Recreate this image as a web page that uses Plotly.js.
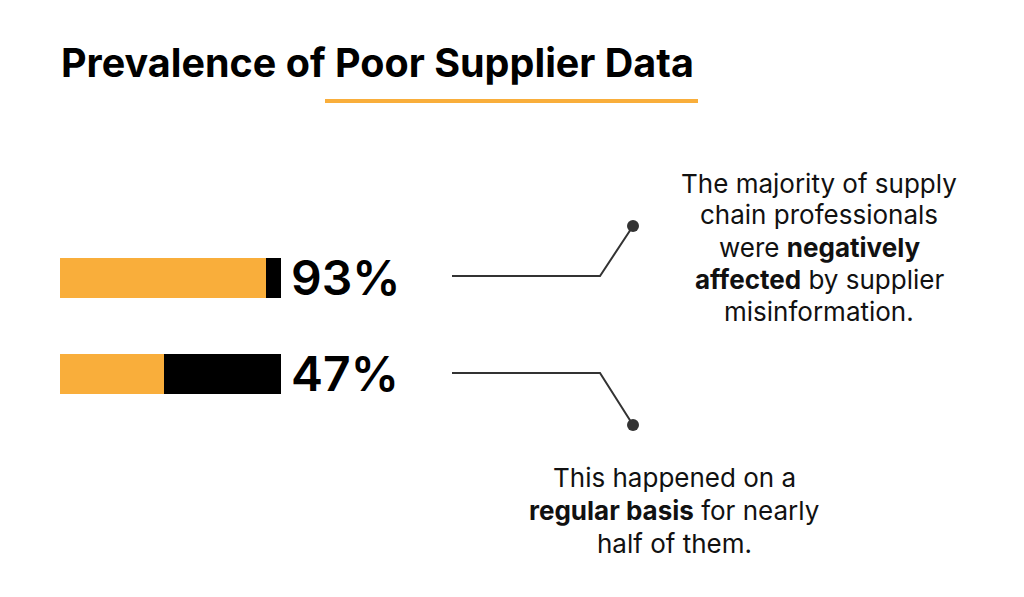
<!DOCTYPE html>
<html><head><meta charset="utf-8">
<script src="https://cdn.plot.ly/plotly-3.0.1.min.js"></script>
<style>html,body{margin:0;padding:0;background:#fff}</style>
</head><body><div id="chart" style="width:1024px;height:597px"></div>
<script>
const categories = ["Negatively affected", "Regular basis"];
const affectedPct = [93, 47];
const remainderPct = [7, 53];
const labels = ["93%", "47%"];
const noteTopLines = ["The majority of supply", "chain professionals", "were <b>negatively</b>", "<b>affected</b> by supplier", "misinformation."];
const noteBottomLines = ["This happened on a", "<b>regular basis</b> for nearly", "half of them."];

const W = 1024, H = 597;
const px = x => x / W, py = y => 1 - y / H;
const ORANGE = "#F9AE3B";
const FONT = "Inter, 'Noto Sans', sans-serif";

const traces = [
  {type: "bar", orientation: "h", y: categories, x: affectedPct, marker: {color: ORANGE}, hoverinfo: "skip"},
  {type: "bar", orientation: "h", y: categories, x: remainderPct, marker: {color: "#000000"}, hoverinfo: "skip"}
];

const annotations = categories.map((c, i) => ({
  xref: "x", yref: "y", x: 100, y: c, text: labels[i], showarrow: false,
  xanchor: "left", yanchor: "middle", xshift: 8, yshift: 1,
  font: {family: FONT, size: 48, color: "#000", weight: 600}
}));
annotations.push(
  {xref: "paper", yref: "paper", x: px(59), y: py(63), xanchor: "left", yanchor: "middle", showarrow: false,
   text: "<b>Prevalence of Poor Supplier Data</b>", font: {family: FONT, size: 39.5, color: "#000"}}
);
noteTopLines.forEach((t, i) => annotations.push({
  xref: "paper", yref: "paper", x: px(819), y: py(183 + 32 * i), xanchor: "center", yanchor: "middle",
  showarrow: false, text: t, font: {family: FONT, size: 26, color: "#111"}
}));
noteBottomLines.forEach((t, i) => annotations.push({
  xref: "paper", yref: "paper", x: px(674), y: py(478 + 32.5 * i), xanchor: "center", yanchor: "middle",
  showarrow: false, text: t, font: {family: FONT, size: 26, color: "#111"}
}));

const lineStyle = {color: "#333333", width: 2};
const shapes = [
  {type: "line", xref: "paper", yref: "paper", x0: px(325), x1: px(698), y0: py(101), y1: py(101), line: {color: ORANGE, width: 4}},
  {type: "path", xref: "paper", yref: "paper", line: lineStyle,
   path: `M ${px(452)} ${py(276)} L ${px(600)} ${py(276)} L ${px(633)} ${py(226)}`},
  {type: "path", xref: "paper", yref: "paper", line: lineStyle,
   path: `M ${px(452)} ${py(373)} L ${px(600)} ${py(373)} L ${px(633)} ${py(425)}`},
  {type: "circle", xref: "paper", yref: "paper", x0: px(627), x1: px(639), y0: py(220), y1: py(232), fillcolor: "#333", line: {width: 0}},
  {type: "circle", xref: "paper", yref: "paper", x0: px(627), x1: px(639), y0: py(419), y1: py(431), fillcolor: "#333", line: {width: 0}}
];

const layout = {
  width: W, height: H, margin: {l: 0, r: 0, t: 0, b: 0},
  paper_bgcolor: "#fff", plot_bgcolor: "rgba(0,0,0,0)",
  barmode: "stack", bargap: 0.583, showlegend: false,
  xaxis: {domain: [px(60), px(281)], range: [0, 100], visible: false, fixedrange: true},
  yaxis: {domain: [py(422), py(230)], autorange: "reversed", visible: false, fixedrange: true},
  annotations, shapes
};
Plotly.newPlot("chart", traces, layout, {displayModeBar: false, staticPlot: true});
</script></body></html>
